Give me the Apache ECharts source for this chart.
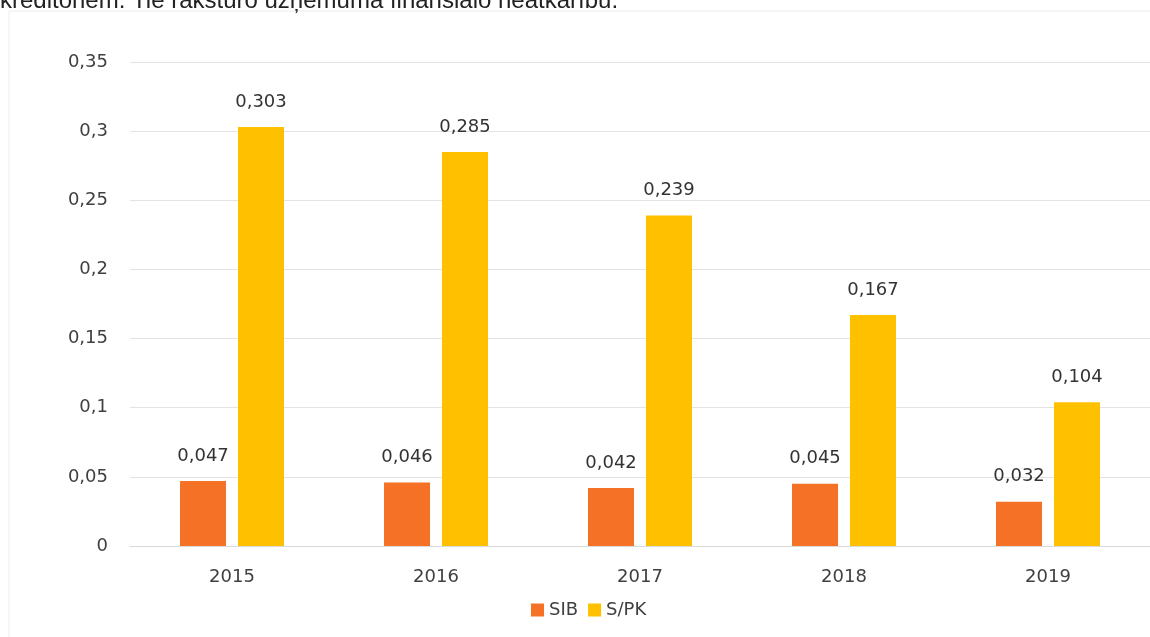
<!DOCTYPE html>
<html><head><meta charset="utf-8">
<script src="https://cdn.jsdelivr.net/npm/echarts@6/dist/echarts.min.js"></script>
<style>html,body{margin:0;padding:0;background:#fff}#c{width:1150px;height:637px}</style>
</head><body><div id="c"></div>
<script>
const categories = ['2015','2016','2017','2018','2019'];
const sib = [0.047, 0.046, 0.042, 0.045, 0.032];
const spk = [0.303, 0.285, 0.239, 0.167, 0.104];
const seriesNames = ['SIB','S/PK'];
const yTicks = [0, 0.05, 0.1, 0.15, 0.2, 0.25, 0.3, 0.35];

const fmt = v => String(v).replace('.', ',');
const FONT = '"DejaVu Sans", Verdana, sans-serif';
const chart = echarts.init(document.getElementById('c'));
chart.setOption({
  animation: false,
  textStyle: {fontFamily: FONT},
  graphic: [
    {type: 'rect', shape: {x: 9, y: 11, width: 1150, height: 640}, style: {fill: 'none', stroke: '#ececec', lineWidth: 1}},
    {type: 'text', x: 0, y: 13, style: {text: 'kreditoriem. Tie raksturo uzņēmuma finansiālo neatkarību.', font: '24px "Liberation Sans", Arial, sans-serif', fill: '#222', verticalAlign: 'bottom'}}
  ],
  grid: {left: 130, right: 0, top: 62, bottom: 91, containLabel: false},
  legend: {
    data: seriesNames, top: 596, left: 526, itemWidth: 13, itemHeight: 13, itemGap: 10,
    icon: 'rect', textStyle: {fontSize: 18, color: '#404040', fontFamily: FONT}
  },
  xAxis: {
    type: 'category', data: categories,
    axisLine: {show: true, lineStyle: {color: '#d9d9d9'}},
    axisTick: {show: false},
    axisLabel: {fontSize: 18, color: '#404040', margin: 22}
  },
  yAxis: {
    type: 'value', min: 0, max: 0.35, interval: 0.05,
    axisLine: {show: false}, axisTick: {show: false},
    splitLine: {lineStyle: {color: '#e3e3e3'}},
    axisLabel: {fontSize: 18, color: '#404040', margin: 22, formatter: v => fmt(+v.toFixed(2))}
  },
  series: [
    {name: seriesNames[0], type: 'bar', data: sib, barWidth: 46, barGap: '26%',
     itemStyle: {color: '#F47125'},
     label: {show: true, position: 'top', distance: 16, fontSize: 18, color: '#333', formatter: p => fmt(p.value)}},
    {name: seriesNames[1], type: 'bar', data: spk, barWidth: 46,
     itemStyle: {color: '#FFC000'},
     label: {show: true, position: 'top', distance: 16, fontSize: 18, color: '#333', formatter: p => fmt(p.value)}}
  ]
});
</script></body></html>
